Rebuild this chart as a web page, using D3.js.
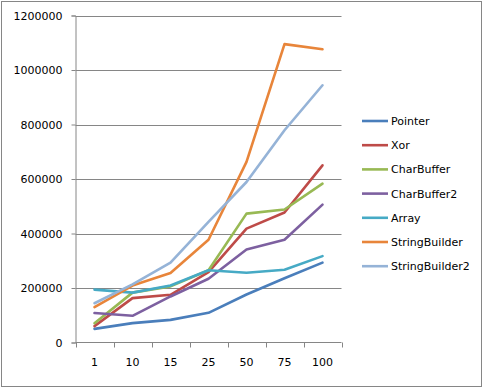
<!DOCTYPE html>
<html>
<head>
<meta charset="utf-8">
<script src="https://cdn.jsdelivr.net/npm/d3@7"></script>
<style>
  body { margin: 0; background: #fff; }
  text { font-family: "DejaVu Sans", Verdana, sans-serif; font-size: 11px; fill: #000; }
</style>
</head>
<body>
<div id="chart"></div>
<script>
// categories (x axis) and series names
const categories = ['1', '10', '15', '25', '50', '75', '100'];
const seriesNames = ['Pointer', 'Xor', 'CharBuffer', 'CharBuffer2', 'Array', 'StringBuilder', 'StringBuilder2'];

// values
const pointer = [50000, 71000, 83000, 109000, 176000, 236000, 293000];
const xor = [60000, 163000, 175000, 258000, 418000, 477000, 650000];
const charBuffer = [71000, 183000, 206000, 265000, 473000, 488000, 583000];
const charBuffer2 = [108000, 98000, 169000, 234000, 341000, 377000, 506000];
const arrayVals = [194000, 183000, 209000, 265000, 256000, 267000, 317000];
const stringBuilder = [130000, 209000, 255000, 377000, 663000, 1095000, 1076000];
const stringBuilder2 = [144000, 213000, 293000, 443000, 589000, 779000, 944000];

const yTicks = [0, 200000, 400000, 600000, 800000, 1000000, 1200000];

const seriesValues = [pointer, xor, charBuffer, charBuffer2, arrayVals, stringBuilder, stringBuilder2];
const colors = ['#4A7EBB', '#BE4B48', '#98B954', '#7D60A0', '#46AAC5', '#E8853A', '#95B3D7'];

const width = 483, height = 388;
const plot = { left: 75.5, right: 341.5, top: 15.5, bottom: 342.5 };

const svg = d3.select('#chart').append('svg')
  .attr('width', width)
  .attr('height', height);

// outer chart border
svg.append('rect')
  .attr('x', 1.5).attr('y', 1.5)
  .attr('width', width - 3).attr('height', height - 3)
  .attr('fill', '#fff')
  .attr('stroke', '#868686');

const x = d3.scaleBand()
  .domain(categories)
  .range([plot.left, plot.right]);

const y = d3.scaleLinear()
  .domain([0, 1200000])
  .range([plot.bottom, plot.top]);

// gridlines
svg.append('g')
  .selectAll('line')
  .data(yTicks.slice(1))
  .join('line')
  .attr('x1', plot.left).attr('x2', plot.right)
  .attr('y1', d => Math.round(y(d)) + 0.5)
  .attr('y2', d => Math.round(y(d)) + 0.5)
  .attr('stroke', '#868686');

// y axis
const yAxis = svg.append('g')
  .attr('transform', `translate(${plot.left},0)`)
  .call(d3.axisLeft(y).tickValues(yTicks).tickSize(4).tickPadding(9).tickFormat(d3.format('d')));
yAxis.select('.domain').attr('stroke', '#868686');
yAxis.selectAll('.tick line').attr('stroke', '#868686');
yAxis.selectAll('text').style('font-family', null).style('font-size', null).attr('font-family', null);

// x axis: ticks at band boundaries
const xAxis = svg.append('g')
  .attr('transform', `translate(0,${plot.bottom})`)
  .call(d3.axisBottom(x).tickSize(0).tickPadding(16));
xAxis.select('.domain').remove();
xAxis.append('line')
  .attr('x1', plot.left).attr('x2', plot.right)
  .attr('stroke', '#868686');
xAxis.selectAll('.band-tick')
  .data(categories.map(c => x(c)).concat([plot.right]))
  .join('line')
  .attr('class', 'band-tick')
  .attr('x1', d => Math.round(d) + 0.5).attr('x2', d => Math.round(d) + 0.5)
  .attr('y1', 0).attr('y2', 5)
  .attr('stroke', '#868686');

// lines
const line = d3.line()
  .x((d, i) => x(categories[i]) + x.bandwidth() / 2)
  .y(d => y(d));

svg.append('g')
  .selectAll('path')
  .data(seriesValues)
  .join('path')
  .attr('d', d => line(d))
  .attr('fill', 'none')
  .attr('stroke', (d, i) => colors[i])
  .attr('stroke-width', 2.6)
  .attr('stroke-linejoin', 'round')
  .attr('stroke-linecap', 'round');

// legend
const legend = svg.append('g')
  .attr('transform', 'translate(362,121)');

const items = legend.selectAll('g')
  .data(seriesNames)
  .join('g')
  .attr('transform', (d, i) => `translate(0,${i * 24.2})`);

items.append('line')
  .attr('x1', 0).attr('x2', 26)
  .attr('stroke', (d, i) => colors[i])
  .attr('stroke-width', 2.6);

items.append('text')
  .attr('x', 29)
  .attr('dy', '0.36em')
  .text(d => d);
</script>
</body>
</html>
